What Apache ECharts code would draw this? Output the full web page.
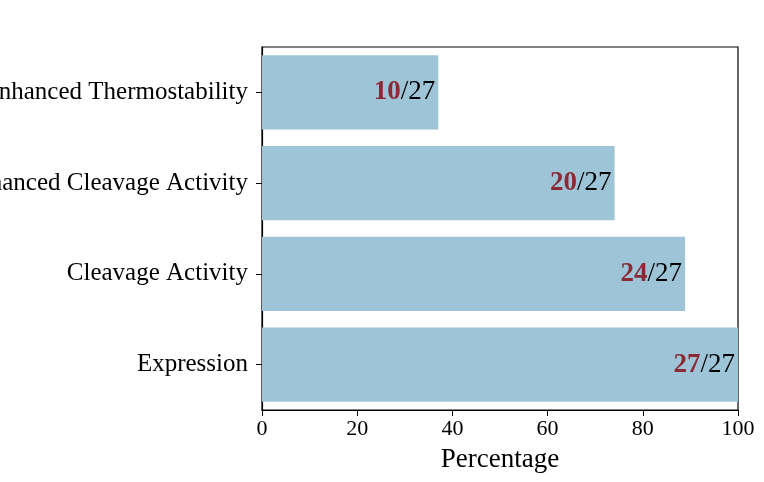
<!DOCTYPE html>
<html style="height: 100%">
<head>
  <meta charset="utf-8">
</head>
<body style="height: 100%; margin: 0; background: #fff">
  <div id="container" style="width: 764px; height: 482px"></div>
  <script src="https://cdn.jsdelivr.net/npm/echarts@6/dist/echarts.min.js"></script>
  <script>
    const categories = ['Expression', 'Cleavage Activity', 'Enhanced Cleavage Activity', 'Enhanced Thermostability'];
    const counts = [27, 24, 20, 10];
    const total = 27;
    const xTicks = [0, 20, 40, 60, 80, 100];

    const font = 'Liberation Serif';
    const chart = echarts.init(document.getElementById('container'), null, { renderer: 'canvas' });

    chart.setOption({
      animation: false,
      textStyle: { fontFamily: font },
      grid: {
        left: 262, right: 26, top: 47, bottom: 72,
        containLabel: false, outerBoundsMode: 'none',
        show: true, borderColor: '#000', borderWidth: 1.2, backgroundColor: 'transparent'
      },
      xAxis: {
        type: 'value', min: xTicks[0], max: xTicks[xTicks.length - 1], interval: 20,
        name: 'Percentage', nameLocation: 'middle', nameGap: 36,
        nameTextStyle: { fontFamily: font, fontSize: 27, color: '#000' },
        axisLine: { show: true, lineStyle: { color: '#000', width: 1.2 } },
        axisTick: { show: true, length: 6, lineStyle: { color: '#000' } },
        axisLabel: { fontFamily: font, fontSize: 22, color: '#000', margin: 8 },
        splitLine: { show: false }
      },
      yAxis: {
        type: 'category', data: categories,
        axisLine: { show: true, lineStyle: { color: '#000', width: 1.2 } },
        axisTick: { show: true, alignWithLabel: true, length: 6, lineStyle: { color: '#000' } },
        axisLabel: { fontFamily: font, fontSize: 25, color: '#000', margin: 14 }
      },
      series: [{
        type: 'bar',
        data: counts.map(c => ({ value: c / total * 100, count: c })),
        barCategoryGap: '18%',
        itemStyle: { color: '#9dc4d7' },
        label: {
          show: true, position: 'insideRight', offset: [2, 0],
          formatter: p => '{a|' + p.data.count + '}{b|/' + total + '}',
          rich: {
            a: { fontFamily: font, fontSize: 27, fontWeight: 'bold', color: '#8b2a35' },
            b: { fontFamily: font, fontSize: 27, color: '#000' }
          }
        }
      }]
    });
  </script>
</body>
</html>
